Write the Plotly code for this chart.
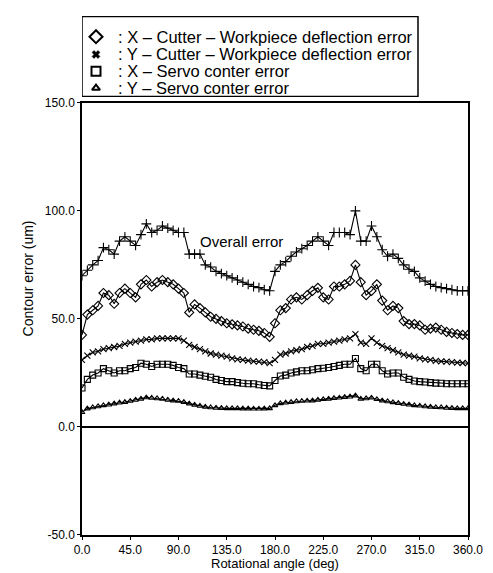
import plotly.graph_objects as go

angle = list(range(0, 361, 5))

overall = [70, 72.5, 75, 77, 83, 82, 80, 86, 88, 86, 84, 89, 94, 90, 91, 93, 92, 91, 90, 90,
           80, 80, 80, 75, 74, 72, 71, 70, 69, 68, 67, 66, 65, 64.5, 63.5, 63, 72, 75, 76.5, 79,
           81, 82.5, 84, 86, 88, 86, 84, 90, 90, 90, 89, 100, 86, 86, 93, 88, 82, 79, 80, 78,
           75, 73, 72, 69, 67.5, 66, 65, 64.5, 64, 63.5, 63, 63, 63]

x_cutter = [42.6, 52, 54, 56, 62, 61, 57, 62, 64, 62, 60, 66, 68, 65, 67, 68, 67, 66, 64, 62,
            53, 56.7, 55, 53, 51, 50, 49, 48, 47.5, 47, 46.5, 45.5, 45, 44.5, 43.5, 41.7, 48, 54, 55, 59,
            60, 59, 61, 63, 64.4, 60, 59, 65, 65, 66, 67.6, 75, 67, 61, 63, 66, 58.5, 54, 56, 55,
            49, 47.6, 47.6, 47, 45, 45.5, 46, 45, 44, 43.5, 43, 42.6, 42.6]

y_cutter = [31, 33, 34.5, 35, 36, 36.5, 37, 37.5, 38.5, 39, 39.5, 40, 40.5, 40.5, 41, 41, 41, 41, 41, 40,
            38, 37, 36, 35, 34, 33.5, 33, 32.5, 31.7, 31.3, 31, 30.7, 30.4, 30.2, 30, 29.5, 31, 33.5, 34, 35,
            35.5, 36, 37, 37.5, 38.5, 38.5, 39, 39.5, 40, 40.5, 41, 43, 39, 38.5, 41, 39, 37.5, 36.5, 35.5, 34.5,
            33.5, 33, 32.5, 31.7, 31.3, 31, 30.6, 30.4, 30.2, 30, 29.8, 29.6, 29.5]

x_servo = [18, 22, 24, 25, 27, 26, 25, 26, 26, 27, 27.5, 29.5, 29, 28, 29, 29, 29, 28.5, 27.5, 27,
           24.5, 24.5, 24, 23.5, 23, 22, 21.5, 21, 21, 20.5, 20.2, 20, 20, 19.5, 19.2, 19, 21.5, 23.6, 24, 25,
           25.5, 26, 26, 26.5, 27, 27.2, 27.5, 28, 28.5, 29, 29, 31.7, 27, 26, 29, 29, 26, 24.5, 25, 25,
           23, 22, 21.3, 21, 20.8, 20.5, 20.3, 20.2, 20, 20, 20, 20, 20]

y_servo = [6.8, 8.5, 9, 9.5, 10, 10.3, 10.8, 11.2, 11.5, 12, 12.5, 13, 13.6, 13.4, 13.2, 13, 12.5, 12.2, 12, 11.5,
           10.8, 10.2, 9.7, 9.3, 9, 8.8, 8.7, 8.6, 8.6, 8.6, 8.5, 8.5, 8.4, 8.4, 8.5, 8.6, 10, 10.9, 11.2, 11.5,
           11.8, 12, 12.1, 12.2, 12.5, 12.8, 13, 13.3, 13.5, 13.8, 14, 14.5, 13, 13.2, 13.5, 12.8, 12.2, 11.8, 11.4, 11,
           10.6, 10.3, 10, 9.8, 9.5, 9.3, 9.1, 9, 8.8, 8.7, 8.6, 8.6, 8.6]

x_ticks = [0, 45, 90, 135, 180, 225, 270, 315, 360]
x_tick_text = ["0.0", "45.0", "90.0", "135.0", "180.0", "225.0", "270.0", "315.0", "360.0"]
y_ticks = [-50, 0, 50, 100, 150]
y_tick_text = ["-50.0", "0.0", "50.0", "100.0", "150.0"]

legend_names = [": X \u2013 Cutter \u2013 Workpiece deflection error",
                ": Y \u2013 Cutter \u2013 Workpiece deflection error",
                ": X \u2013 Servo conter error",
                ": Y \u2013 Servo conter error"]

FONT = "Liberation Sans, Arial, sans-serif"
fig = go.Figure()

series = [
    (overall, "cross-thin-open", 7),
    (x_cutter, "diamond-open", 7),
    (y_cutter, "x-thin-open", 6),
    (x_servo, "square-open", 6),
    (y_servo, "triangle-up-open", 5),
]
for vals, sym, size in series:
    fig.add_trace(go.Scatter(
        x=angle, y=vals, mode="lines+markers", showlegend=False,
        line=dict(color="black", width=1.1),
        marker=dict(symbol=sym, size=size, color="black", line=dict(width=1.1, color="black")),
    ))

# legend key (helper axes in page-pixel units)
leg_rows = [30, 48, 65, 82]
leg_syms = [("diamond-open", 10, 2), ("x", 7, 0.5), ("square-open", 9, 2), ("triangle-up-open", 7, 2)]
for (sym, size, lw), row in zip(leg_syms, leg_rows):
    fig.add_trace(go.Scatter(
        x=[96], y=[row], xaxis="x2", yaxis="y2", mode="markers", showlegend=False,
        hoverinfo="skip",
        marker=dict(symbol=sym, size=size, color="black", line=dict(width=lw, color="black")),
    ))
for name, row in zip(legend_names, leg_rows):
    fig.add_annotation(x=116, y=row, xref="x2", yref="y2", text=name, showarrow=False,
                       xanchor="left", yanchor="middle",
                       font=dict(family=FONT, size=16.5, color="black"))
fig.add_shape(type="rect", xref="x2", yref="y2", x0=82, x1=418, y0=9.5, y1=90.5,
              line=dict(color="black", width=1.5))

fig.add_annotation(x=108, y=86, text="Overall error", showarrow=False, xanchor="left",
                   font=dict(family=FONT, size=15, color="black"))

# axis titles placed as in reference
fig.add_annotation(x=-0.165, y=0.494, xref="paper", yref="paper", text="Contour error (um)",
                   showarrow=False, textangle=-90,
                   font=dict(family=FONT, size=14, color="black"))
fig.add_annotation(x=0.5, y=-0.055, xref="paper", yref="paper", text="Rotational angle (deg)",
                   showarrow=False, yanchor="middle",
                   font=dict(family=FONT, size=13, color="black"))

axis_common = dict(showline=True, linecolor="black", linewidth=1.5, mirror=True,
                   ticks="outside", ticklen=3, tickcolor="black", showgrid=False,
                   tickfont=dict(family=FONT, size=12, color="black"))

# the page body adds an 8px margin, so the figure is 8px smaller than the window
fig.update_layout(
    width=485, height=565,
    margin=dict(l=74, r=25, t=0, b=38),
    paper_bgcolor="white", plot_bgcolor="white",
    font=dict(family=FONT, color="black"),
    showlegend=False,
    xaxis=dict(range=[0, 360], tickvals=x_ticks, ticktext=x_tick_text, domain=[0, 1],
               zeroline=False, **axis_common),
    yaxis=dict(range=[-50, 150], tickvals=y_ticks, ticktext=y_tick_text, domain=[0, 0.8311],
               zeroline=True, zerolinecolor="black", zerolinewidth=1.5, **axis_common),
    xaxis2=dict(range=[82, 468], domain=[0, 1], anchor="y2", visible=False, fixedrange=True),
    yaxis2=dict(range=[91, 9], domain=[0.8425, 0.9981], anchor="x2", visible=False, fixedrange=True),
)

fig.write_html("out.html")
